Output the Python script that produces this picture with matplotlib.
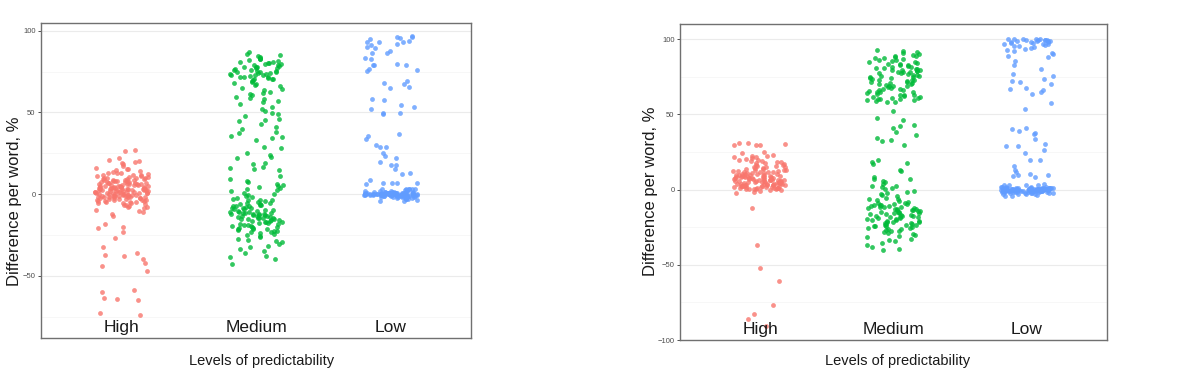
import numpy as np
import matplotlib.pyplot as plt
from matplotlib.ticker import MultipleLocator

plt.rcParams['font.family'] = ['Liberation Sans', 'DejaVu Sans']

niveis = ["High", "Medium", "Low"]
cores = ["#F8766D", "#00BA38", "#619CFF"]

# painel esquerdo
high_esq = [27.0, 26.6, 22.1, 21.0, 20.3, 19.4, 18.8, 18.1, 17.3, 16.2, 15.6, 15.1, 14.7, 14.2, 13.8, 13.1,
            12.7, 12.3, 11.9, 11.4, 11.1, 10.8, 10.4, 10.1, 9.8, 9.6, 9.3, 9.0, 8.8, 8.5, 8.3, 8.1, 7.9, 7.6,
            7.4, 7.2, 7.0, 6.8, 6.6, 6.4, 6.2, 6.0, 5.9, 5.7, 5.5, 5.3, 5.1, 5.0, 4.8, 4.6, 4.5, 4.3, 4.1,
            4.0, 3.8, 3.7, 3.5, 3.4, 3.2, 3.1, 2.9, 2.8, 2.6, 2.5, 2.3, 2.2, 2.0, 1.9, 1.7, 1.6, 1.4, 1.3,
            1.1, 1.0, 0.8, 0.7, 0.5, 0.4, 0.2, 0.1, -0.1, -0.2, -0.4, -0.5, -0.7, -0.8, -1.0, -1.1, -1.3,
            -1.5, -1.6, -1.8, -2.0, -2.1, -2.3, -2.5, -2.7, -2.9, -3.1, -3.3, -3.5, -3.7, -3.9, -4.2, -4.5,
            -4.8, -5.1, -5.4, -5.7, -6.0, -6.4, -6.8, -7.2, -7.7, -8.2, -8.8, -9.5, -10.3, -11.2, -12.0,
            11.6, 10.6, 9.1, 8.6, 7.7, 6.9, 6.1, 5.6, 4.9, 4.4, 3.9, 3.3, 2.7, 2.1, 1.5, 0.9, 0.3, -0.3,
            -0.9, -1.4, -1.9, -2.6, -3.4, -4.0, -4.6, -5.5, 12.9, 8.0, 3.0, -1.2, 2.4, 5.2, 7.3, 9.9, 0.6,
            -13.5, -18.5, -20.0, -21.0, -23.0, -26.7, -32.4, -36.0, -37.5, -37.7, -40.0, -42.0, -44.0,
            -47.0, -58.5, -60.0, -63.6, -64.5, -65.0, -72.6, -74.0]
medium_esq = [87.0, 85.6, 85.0, 84.3, 83.8, 83.4, 82.9, 82.5, 82.0, 81.6, 81.1, 80.7, 80.2, 79.8, 79.3, 78.9,
              78.5, 78.0, 77.6, 77.1, 76.7, 76.2, 75.8, 75.4, 75.0, 74.6, 74.2, 73.8, 73.4, 73.0, 72.6, 72.2,
              71.8, 71.4, 71.0, 70.6, 70.2, 69.8, 69.3, 68.8, 68.2, 67.5, 66.8, 66.0, 65.2, 64.3, 63.5, 62.7,
              62.0, 61.2, 60.4, 59.6, 58.8, 58.0, 57.1, 56.3, 55.4, 79.1, 76.9, 74.8, 72.9, 71.6, 70.4, 73.6,
              75.6, 77.9, 80.4,
              53.2, 52.0, 50.6, 49.8, 48.9, 47.5, 46.0, 45.4, 44.8, 42.6, 40.9, 40.1, 38.2, 37.3, 35.8, 35.0,
              34.1, 32.9, 29.0, 28.1, 25.3, 23.6, 22.4, 21.8, 19.2, 18.7, 16.8, 16.1, 15.3, 14.6, 11.0, 9.4,
              8.1, 7.2, 6.0, 5.6, 5.1, 4.4, 3.9, 3.2,
              2.4, 1.6, 0.8, 0.2, -0.5, -1.1, -1.8, -2.4, -2.9, -3.4, -3.9, -4.3, -4.8, -5.2, -5.6, -6.0, -6.4,
              -6.8, -7.2, -7.6, -8.0, -8.4, -8.8, -9.1, -9.4, -9.8, -10.1, -10.4, -10.7, -11.0, -11.3, -11.6,
              -11.9, -12.2, -12.5, -12.8, -13.1, -13.4, -13.7, -14.0, -14.3, -14.6, -14.9, -15.2, -15.5,
              -15.8, -16.1, -16.4, -16.8, -17.2, -17.6, -18.0, -18.4, -18.8, -19.2, -19.6, -20.0, -20.4,
              -20.8, -21.2, -21.6, -22.0, -22.5, -23.0, -23.5, -24.0, -24.6, -25.2, -25.8, -26.5, -27.2,
              -28.0, -28.8, -29.6, -30.5, -31.5, -32.6, -33.8, -35.0, -36.3, -37.7, -38.3, -40.0, -43.0,
              -9.6, -10.9, -11.8, -12.7, -13.6, -14.5, -15.4, -16.3, -17.4, -18.6, -19.4, -20.6, -21.4,
              -22.8, -12.0, -14.8, -8.6, -7.4, -5.9, -3.6]
low_esq = [96.5, 95.9, 95.9, 95.3, 94.7, 93.4, 93.0, 92.8, 92.8, 91.8, 91.0, 90.2, 89.5, 87.5, 86.3, 86.3,
           83.0, 82.8, 79.8, 79.1, 78.9, 78.7, 76.3, 76.1, 75.5, 69.0, 68.1, 67.3, 65.3, 65.1, 58.4, 57.5,
           54.3, 53.0, 52.2, 49.6, 49.6, 48.8, 36.5, 35.5, 33.5, 29.8, 28.8, 28.6, 25.3, 23.3, 22.2, 19.6,
           17.7, 17.6, 15.5, 13.0, 12.0, 8.6, 6.9, 6.9, 6.8, 6.5, 6.4, 3.4, 3.3, 3.2, 2.9, 2.9, 2.8, 2.7,
           2.2, 2.0, 1.8, 1.6, 1.5, 1.4, 1.3, 1.2, 1.1, 1.0, 0.9, 0.9, 0.8, 0.8, 0.7, 0.7, 0.6, 0.6, 0.5,
           0.5, 0.5, 0.4, 0.4, 0.4, 0.3, 0.3, 0.3, 0.2, 0.2, 0.2, 0.1, 0.1, 0.1, 0.0, 0.0, 0.0, 0.0, -0.1,
           -0.1, -0.1, -0.2, -0.2, -0.2, -0.3, -0.3, -0.3, -0.4, -0.4, -0.4, -0.5, -0.5, -0.5, -0.6, -0.6,
           -0.7, -0.7, -0.8, -0.8, -0.9, -0.9, -1.0, -1.0, -1.1, -1.1, -1.2, -1.2, -1.3, -1.4, -1.5, -1.6,
           -1.7, -1.8, -1.9, -2.0, -2.1, -2.2, -2.4, -2.6, -2.8, -3.0, -3.3, -3.6, -4.0, -4.4, 0.15, -0.15,
           0.35, -0.35, 0.65, -0.65, 0.05, -0.05, 0.25, -0.25, 0.45, -0.45, 0.55, -0.55, 0.75, -0.75, 1.05,
           -1.05, 1.25, -1.25]

# painel direito
high_dir = [31.0, 30.6, 30.2, 29.9, 29.6, 29.8, 25.0, 23.1, 22.4, 21.8, 21.3, 20.7, 20.1, 19.6, 19.0, 18.5,
            18.0, 17.4, 16.9, 16.4, 15.9, 15.5, 15.0, 14.6, 14.2, 13.8, 13.4, 13.0, 12.7, 12.4, 12.1, 11.8,
            11.5, 11.2, 10.9, 10.6, 10.3, 10.0, 9.8, 9.5, 9.3, 9.0, 8.8, 8.6, 8.4, 8.2, 8.0, 7.8, 7.6, 7.4,
            7.2, 7.0, 6.8, 6.6, 6.4, 6.2, 6.0, 5.8, 5.6, 5.4, 5.2, 5.0, 4.8, 4.6, 4.4, 4.2, 4.0, 3.8, 3.6,
            3.4, 3.2, 3.0, 2.8, 2.6, 2.4, 2.2, 2.0, 1.8, 1.6, 1.4, 1.2, 1.0, 0.8, 0.6, 0.4, 0.2, 0.0,
            11.9, 10.8, 9.7, 8.9, 8.1, 7.3, 6.5, 5.7, 4.9, 4.1, 3.3, 2.5, 1.7, 0.9, 0.3, 12.6, 9.2, 7.7,
            6.1, 4.5, 2.9, 1.3, 5.3, 3.7, 2.1, 0.5, 8.5, 6.9, 10.2, 14.8, 16.6, 13.3, 17.9, 19.3, 24.0, 22.0,
            9.9, 7.9, 5.9, 3.9, 1.9, 11.4, 15.3, 18.8, 4.7, 6.3, 2.7, 1.1, -0.4, -1.0, -1.6, -2.2,
            -12.0, -37.0, -52.0, -60.5, -76.7, -82.6, -85.8, -90.9]
medium_dir = [92.4, 92.0, 91.6, 90.5, 90.0, 89.6, 89.0, 88.4, 87.8, 87.2, 86.6, 86.0, 85.5, 85.0, 84.5, 84.0,
              83.5, 83.0, 82.5, 82.0, 81.5, 81.0, 80.5, 80.0, 79.6, 79.2, 78.8, 78.4, 78.0, 77.6, 77.2, 76.8,
              76.4, 76.0, 75.5, 75.0, 74.5, 74.0, 73.5, 73.0, 72.5, 72.0, 71.5, 71.0, 70.5, 70.0, 69.5, 69.0,
              68.5, 68.0, 67.5, 67.0, 66.5, 66.0, 65.5, 65.0, 64.5, 64.0, 63.5, 63.0, 62.5, 62.0, 61.5, 61.0,
              60.5, 60.0, 59.6, 59.2, 58.8, 58.4, 58.0, 85.8, 80.2, 77.9, 75.2, 72.8, 69.8, 66.4, 62.8, 60.2,
              78.6, 73.9, 68.7, 64.8, 87.5, 83.7, 81.2, 71.3, 59.9, 61.8, 79.4,
              52.0, 47.5, 46.3, 43.0, 42.2, 40.6, 38.3, 36.2, 34.4, 32.8, 32.1, 29.5, 19.9, 18.2, 17.3, 16.9,
              13.2, 12.4, 8.0, 7.1, 6.7, 5.8, 4.8, 3.6, 2.5, 2.4, 1.9, 1.1, 0.6,
              -0.8, -1.6, -2.3, -3.1, -3.9, -4.6, -5.3, -6.0, -6.6, -7.2, -7.8, -8.3, -8.8, -9.3, -9.7, -10.1,
              -10.5, -10.9, -11.3, -11.7, -12.1, -12.5, -12.9, -13.3, -13.7, -14.1, -14.5, -14.9, -15.3,
              -15.7, -16.1, -16.5, -16.9, -17.3, -17.7, -18.1, -18.5, -18.9, -19.3, -19.7, -20.1, -20.5,
              -20.9, -21.3, -21.7, -22.1, -22.5, -22.9, -23.3, -23.7, -24.1, -24.5, -24.9, -25.3, -25.8,
              -26.3, -26.8, -27.3, -27.8, -28.4, -29.0, -29.6, -30.3, -31.0, -31.8, -32.6, -33.5, -34.5,
              -35.6, -36.8, -38.2, -39.4, -40.3, -10.3, -11.9, -13.6, -15.1, -16.7, -18.4, -20.7, -22.6,
              -24.4, -12.7, -14.7, -19.1, -21.9, -9.1, -17.9, -23.9, -26.1, -11.1, -13.1, -15.9]
low_dir = [100.0, 100.0, 99.9, 99.8, 99.7, 99.6, 99.5, 99.4, 99.3, 99.2, 99.0, 98.8, 98.6, 98.4, 98.2, 98.0,
           97.8, 97.5, 97.2, 97.0, 96.7, 96.4, 96.0, 95.6, 95.2, 94.8, 94.2, 93.6, 93.0, 92.0, 91.0, 89.8,
           88.6, 88.0, 85.2, 82.8, 80.0, 77.0, 75.6, 73.4, 72.2, 71.2, 70.0, 67.4, 66.6, 66.0, 64.6, 63.5,
           57.4, 53.5, 41.2, 40.1, 39.2, 37.6, 36.6, 33.4, 30.1, 29.2, 28.9, 26.5, 24.6, 19.8, 19.6, 15.4,
           13.1, 11.6, 10.4, 9.9, 9.4, 9.0, 8.6, 3.4, 3.2, 3.0, 2.9, 2.7,
           2.0, 1.8, 1.6, 1.5, 1.4, 1.3, 1.2, 1.1, 1.0, 0.9, 0.9, 0.8, 0.8, 0.7, 0.7, 0.6, 0.6, 0.5, 0.5,
           0.5, 0.4, 0.4, 0.4, 0.3, 0.3, 0.3, 0.2, 0.2, 0.2, 0.1, 0.1, 0.1, 0.0, 0.0, 0.0, 0.0, -0.1, -0.1,
           -0.1, -0.2, -0.2, -0.2, -0.3, -0.3, -0.3, -0.4, -0.4, -0.4, -0.5, -0.5, -0.5, -0.6, -0.6, -0.7,
           -0.7, -0.8, -0.8, -0.9, -0.9, -1.0, -1.0, -1.1, -1.1, -1.2, -1.2, -1.3, -1.4, -1.5, -1.6, -1.7,
           -1.8, -1.9, -2.0, -2.1, -2.2, -2.4, -2.6, -2.8, -3.0, -3.3, -3.6, -4.0, -4.4, 0.15, -0.15, 0.35,
           -0.35, 0.65, -0.65, 0.05, -0.05, 0.25, -0.25, 0.45, -0.45, 0.55, -0.55, 0.75, -0.75, 1.05, -1.05,
           1.25, -1.25, -1.45, -1.65, -2.3, -2.7]

paineis = [
    ([high_esq, medium_esq, low_esq], (-88.1, 104.7), [-50, 0, 50, 100]),
    ([high_dir, medium_dir, low_dir], (-100, 110), [-100, -50, 0, 50, 100]),
]
posicoes = [[0.0342, 0.1266, 0.3583, 0.814], [0.5667, 0.1214, 0.3558, 0.8166]]
# centros dos títulos dos eixos (fração da figura)
ylabel_xy = [(0.0125, 0.48), (0.5425, 0.505)]
centros_xlabel = [0.218, 0.748]


def jitter(n, semente):
    # espalhamento horizontal determinístico (hash), largura 0.2 para cada lado
    i = np.arange(n) + semente
    h = np.sin(i * 12.9898 + semente * 78.233) * 43758.5453
    return (h - np.floor(h) - 0.5) * 0.4


fig = plt.figure(figsize=(12, 3.87), dpi=100)

for k, (grupos, ylim, ticks) in enumerate(paineis):
    ax = fig.add_axes(posicoes[k])
    for i, (valores, cor) in enumerate(zip(grupos, cores)):
        y = np.array(valores)
        x = i + 1 + jitter(len(y), 3 * k + i + 1)
        ax.scatter(x, y, s=12, color=cor, alpha=0.8, linewidths=0, zorder=3)

    ax.set_xlim(0.4, 3.6)
    ax.set_ylim(*ylim)
    ax.set_yticks(ticks)
    ax.yaxis.set_minor_locator(MultipleLocator(25))
    ax.set_xticks([])
    ax.grid(axis='y', which='major', color='#EBEBEB', linewidth=0.8, zorder=0)
    ax.grid(axis='y', which='minor', color='#F4F4F4', linewidth=0.5, zorder=0)
    ax.tick_params(axis='y', which='major', labelsize=5.5, labelcolor='#4D4D4D',
                   color='#333333', length=2.5, width=0.6, pad=1.5)
    ax.tick_params(axis='y', which='minor', length=0)
    ax.set_yticklabels([str(t).replace('-', '\u2212') for t in ticks])
    for lado in ax.spines.values():
        lado.set_color('#707070')
        lado.set_linewidth(1.0)

    for i, nome in enumerate(niveis):
        ax.text(i + 1, 0.019, nome, transform=ax.get_xaxis_transform(),
                ha='center', va='baseline', fontsize=12.5, color='#1a1a1a', zorder=4)

    fig.text(ylabel_xy[k][0], ylabel_xy[k][1], "Difference per word, %", rotation=90,
             ha='center', va='center', fontsize=12, color='#1a1a1a')
    fig.text(centros_xlabel[k], 0.067, "Levels of predictability",
             ha='center', va='center', fontsize=10.5, color='#1a1a1a')

plt.savefig("out.png", dpi=100)
plt.close()
